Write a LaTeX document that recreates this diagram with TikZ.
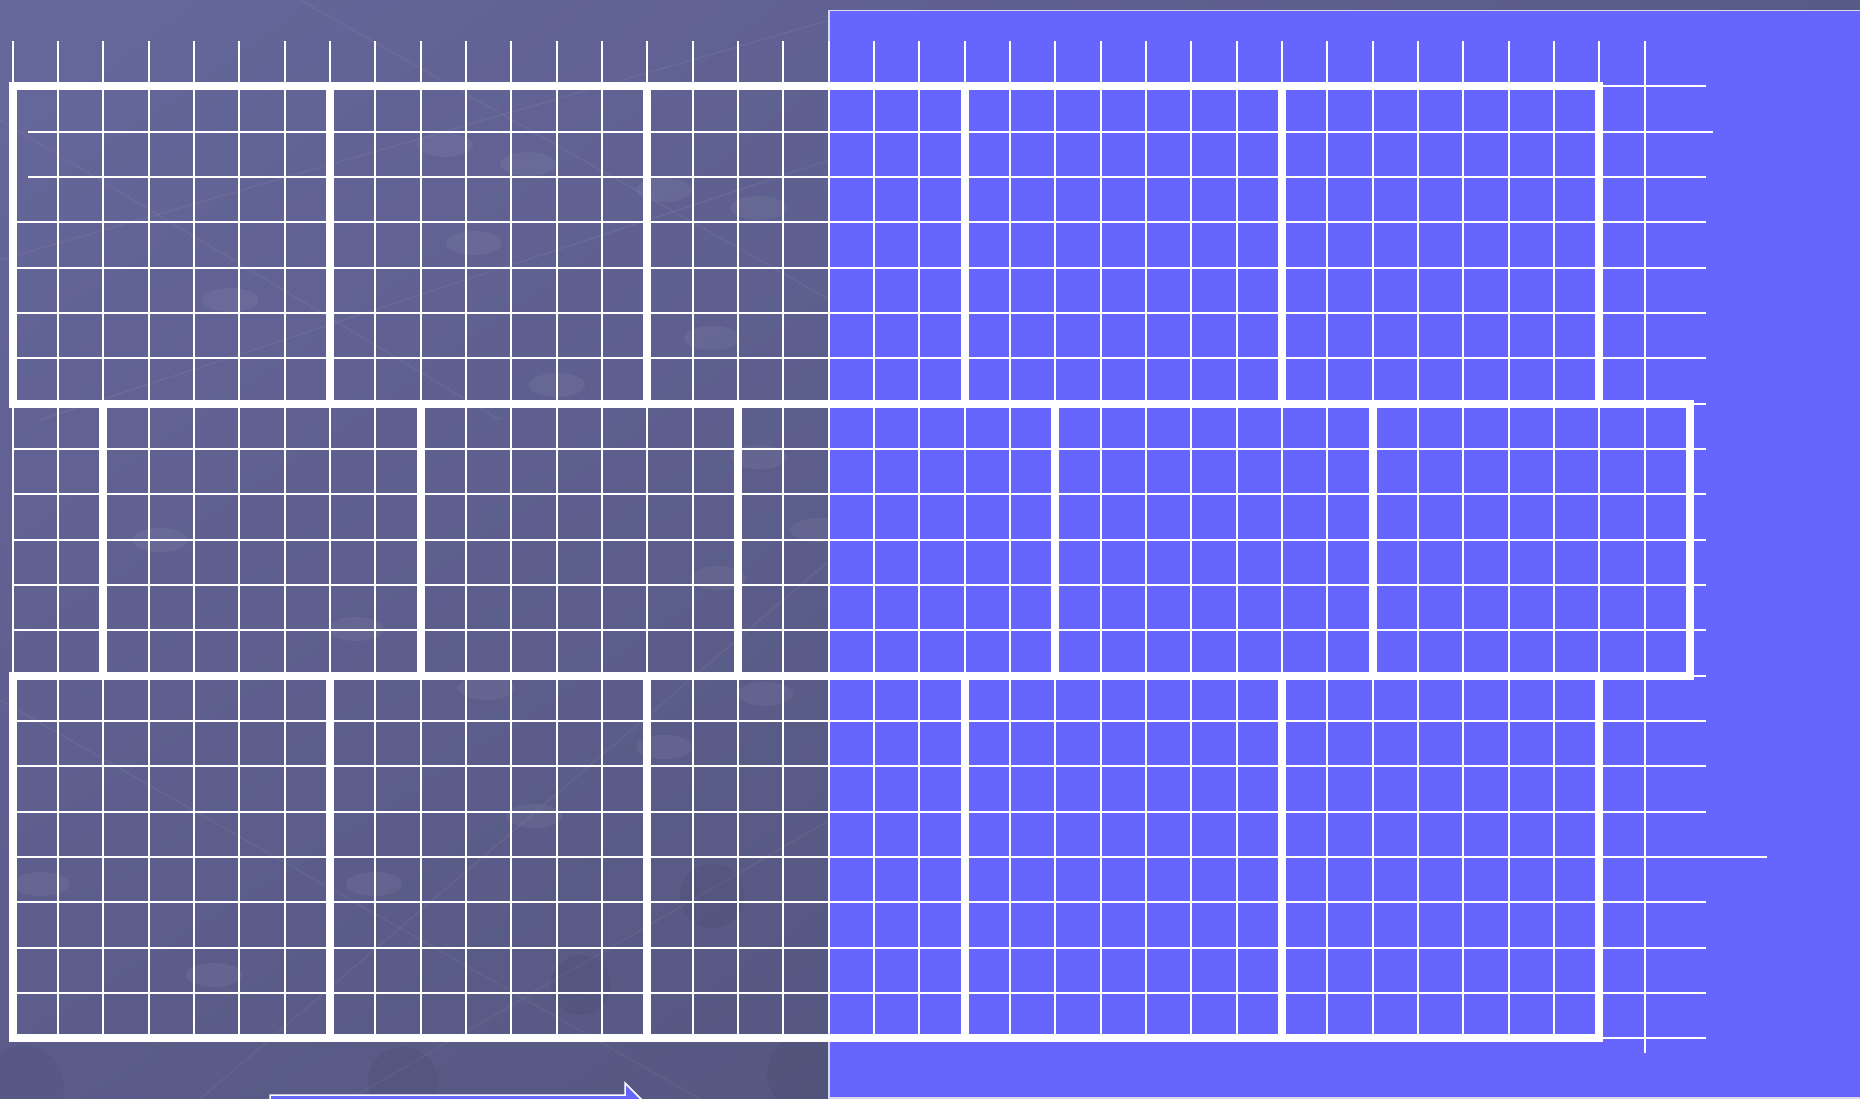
\documentclass[tikz,border=0pt]{standalone}
\usetikzlibrary{shadings}
\definecolor{bgUL}{HTML}{66679B}
\definecolor{bgUR}{HTML}{585A86}
\definecolor{bgLL}{HTML}{5B5C89}
\definecolor{bgLR}{HTML}{4F5177}
\definecolor{panel}{HTML}{6666FF}
\definecolor{edge}{HTML}{D8D8F4}
\tikzset{
  gridline/.style={white, line width=2pt},
  brick/.style={white, line width=8pt, line join=miter},
  panelbox/.style={fill=panel, draw=edge, line width=1.5pt},
  blockarrow/.style={fill=panel, draw=white, line width=1.5pt, line join=miter},
  glow/.style={fill=white, opacity=0.05},
  shadowball/.style={fill=black, opacity=0.045},
  netline/.style={white, opacity=0.05, line width=1.5pt}
}
\newcommand{\GX}[1]{12.7+45.33*#1}
\newcommand{\GY}[1]{86.3+45.33*#1}
\begin{document}
\begin{tikzpicture}[x=1pt,y=-1pt]
\useasboundingbox (0,0) rectangle (1860,1099);
\clip (0,0) rectangle (1860,1099);
% background
\shade[upper left=bgUL, upper right=bgUR, lower left=bgLL, lower right=bgLR] (0,0) rectangle (1860,1099);
% faint network decoration
\foreach \a/\b/\c/\d in {0/260/830/20, 40/420/830/160, 200/1099/830/560, 0/700/700/1099, 300/0/830/300, 0/120/500/420, 350/1099/830/820}
  \draw[netline] (\a,\b) -- (\c,\d);
\foreach \px/\py in {445/145, 528/164, 474/243, 664/190, 759/208, 712/338, 557/385, 759/457, 818/530, 718/578, 765/694, 356/629, 486/688, 664/747, 534/816, 374/884, 214/975, 41/884, 160/540, 230/300}
  \fill[glow] (\px,\py) ellipse (28 and 12);
\foreach \px/\py/\r in {24/1085/40, 403/1082/35, 581/985/30, 712/896/32, 807/1073/40}
  \fill[shadowball] (\px,\py) circle (\r);
% blue panel
\draw[panelbox] (829,10.7) rectangle (1870,1098);
% thin grid: vertical lines
\foreach \i in {0,...,35}
  \draw[gridline] ({\GX{\i}},41) -- ({\GX{\i}},{\GY{21}});
\draw[gridline] ({\GX{36}},41) -- ({\GX{36}},1053);
% thin grid: horizontal lines
\foreach \j in {0,3,4,...,16,18,19,20,21}
  \draw[gridline] (12.7,{\GY{\j}}) -- (1705.7,{\GY{\j}});
\draw[gridline] (28,{\GY{1}}) -- (1712.7,{\GY{1}});
\draw[gridline] (28,{\GY{2}}) -- (1705.7,{\GY{2}});
\draw[gridline] (12.7,{\GY{17}}) -- (1766.7,{\GY{17}});
% bricks, row 1
\foreach \a in {0,7,14,21,28}
  \draw[brick] ({\GX{\a}},{\GY{0}}) rectangle ({\GX{(\a+7)}},{\GY{7}});
% bricks, row 2
\foreach \a in {2,9,16,23,30}
  \draw[brick] ({\GX{\a}},{\GY{7}}) rectangle ({\GX{(\a+7)}},{\GY{13}});
% bricks, row 3
\foreach \a in {0,7,14,21,28}
  \draw[brick] ({\GX{\a}},{\GY{13}}) rectangle ({\GX{(\a+7)}},{\GY{21}});
% block arrow at the bottom
\draw[blockarrow] (270,1095) -- (625,1095) -- (625,1083) -- (655,1113) -- (625,1143) -- (625,1131) -- (270,1131) -- cycle;
\end{tikzpicture}
\end{document}
